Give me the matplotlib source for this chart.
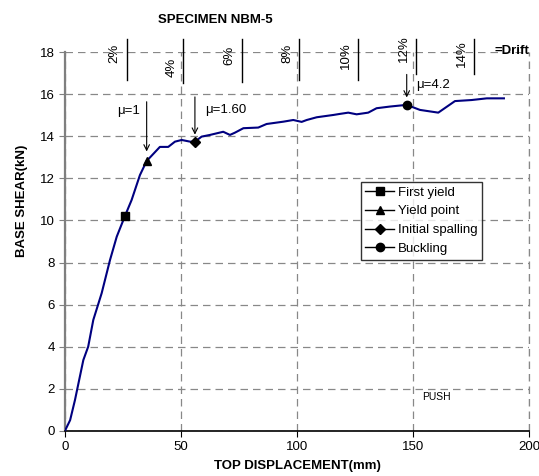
import matplotlib
matplotlib.use("Agg")
import matplotlib.pyplot as plt

plt.rcParams['font.family'] = ['Liberation Sans', 'DejaVu Sans']

# pushover curve: top displacement (mm) vs base shear (kN)
disp = [0, 2.2, 4.3, 7.9, 10.0, 12.2, 15.8, 19.4, 22.3, 25.9, 28.7, 32.3, 35.2,
        40.9, 44.5, 47.4, 50.3, 53.9, 56.0, 58.9, 62.5, 68.2, 71.1, 73.3, 76.9,
        83.3, 86.9, 94.1, 98.4, 102.0, 104.2, 108.5, 115.7, 118.5, 122.1, 125.7,
        130.7, 134.3, 140.1, 147.3, 153.0, 160.9, 168.1, 175.3, 181.8, 189.2]
shear = [0, 0.5, 1.46, 3.36, 4.0, 5.27, 6.54, 8.12, 9.23, 10.23, 10.97, 12.16, 12.83,
         13.5, 13.5, 13.75, 13.83, 13.75, 13.75, 13.99, 14.07, 14.22, 14.07, 14.18, 14.39,
         14.42, 14.59, 14.70, 14.78, 14.69, 14.78, 14.91, 15.02, 15.07, 15.13, 15.05,
         15.13, 15.34, 15.42, 15.50, 15.26, 15.13, 15.68, 15.73, 15.81, 15.81]

# key events on the curve
event_names = ['First yield', 'Yield point', 'Initial spalling', 'Buckling']
event_markers = ['s', '^', 'D', 'o']
event_disp = [25.9, 35.2, 56.0, 147.3]
event_shear = [10.23, 12.83, 13.75, 15.50]

# drift ratio marks along the top
drift_labels = ['2%', '4%', '6%', '8%', '10%', '12%', '14%']
drift_disp = [26.6, 51.0, 76.2, 101.0, 126.1, 151.1, 176.3]
drift_label_y = [17.94, 17.3, 17.87, 17.97, 17.85, 18.16, 17.94]
drift_line_bottom = [16.68, 16.54, 16.6, 16.68, 16.7, 16.97, 16.97]

# ductility annotations
mu_labels = ['\u03bc=1', '\u03bc=1.60', '\u03bc=4.2']
mu_disp = [35.2, 56.0, 147.3]
mu_arrow_top = [15.78, 16.01, 17.08]
mu_arrow_tip = [13.15, 13.95, 15.72]

fig = plt.figure(figsize=(5.39, 4.76), dpi=100)
ax = fig.add_axes([0.1206, 0.0952, 0.8608, 0.7949])

ax.plot(disp, shear, color='#000080', linewidth=1.5, zorder=3)

for name, m, x, y in zip(event_names, event_markers, event_disp, event_shear):
    ms = 5.5 if m == 'D' else 6
    ax.plot([x], [y], linestyle='none', marker=m, color='black', markersize=ms, zorder=4)
    ax.plot([], [], color='black', linewidth=1, marker=m, markersize=ms, label=name)

ax.set_xlim(0, 200)
ax.set_ylim(0, 18)
ax.set_xticks([0, 50, 100, 150, 200])
ax.set_yticks(range(0, 19, 2))
ax.grid(True, color='#888888', linestyle=(0, (6, 4)), linewidth=0.9)
ax.set_axisbelow(True)
# right-hand gridline sits on the axes edge
ax.axvline(200, color='#888888', linestyle=(0, (6, 4)), linewidth=0.9, clip_on=False, zorder=0)

for s in ['top', 'right']:
    ax.spines[s].set_visible(False)
ax.spines['left'].set_color('#7f7f7f')
ax.spines['left'].set_linewidth(1.6)
ax.spines['bottom'].set_color('black')
ax.spines['bottom'].set_linewidth(1.2)
ax.tick_params(axis='both', labelsize=9.5, direction='out', length=4, colors='black')
ax.tick_params(axis='y', color='#7f7f7f')

# drift lines and labels above the plot
for lab, x, ly, yb in zip(drift_labels, drift_disp, drift_label_y, drift_line_bottom):
    ax.plot([x, x], [yb, 18.63], color='black', linewidth=1, clip_on=False, zorder=3)
    ax.text(x - 5.2, ly, lab, rotation=90, ha='center', va='center', fontsize=9.5)
ax.text(200, 18.05, '=Drift', ha='right', va='center', fontsize=9.5, fontweight='bold')

# ductility arrows
for lab, x, yt, yp in zip(mu_labels, mu_disp, mu_arrow_top, mu_arrow_tip):
    ax.annotate('', xy=(x, yp), xytext=(x, yt),
                arrowprops=dict(arrowstyle='->', color='black', lw=0.8))
ax.text(32.3, 15.21, mu_labels[0], ha='right', va='center', fontsize=9.5)
ax.text(60.3, 15.26, mu_labels[1], ha='left', va='center', fontsize=9.5)
ax.text(151.3, 16.45, mu_labels[2], ha='left', va='center', fontsize=9.5)

ax.text(154, 1.62, 'PUSH', ha='left', va='center', fontsize=7.5)

leg = ax.legend(loc='upper left', bbox_to_anchor=(0.637, 0.658), fontsize=9.5,
                frameon=True, fancybox=False, handlelength=2.2, handletextpad=0.3,
                borderpad=0.35, labelspacing=0.5, borderaxespad=0)
leg.get_frame().set_edgecolor('black')
leg.get_frame().set_linewidth(1)

fig.text(215 / 539, 1 - 20 / 476, 'SPECIMEN NBM-5', ha='center', va='center',
         fontsize=9.5, fontweight='bold')
fig.text(22 / 539, 1 - 201 / 476, 'BASE SHEAR(kN)', rotation=90, ha='center', va='center',
         fontsize=9.5, fontweight='bold')
fig.text(297 / 539, 1 - 466 / 476, 'TOP DISPLACEMENT(mm)', ha='center', va='center',
         fontsize=9.5, fontweight='bold')

fig.savefig('out.png', dpi=100)
